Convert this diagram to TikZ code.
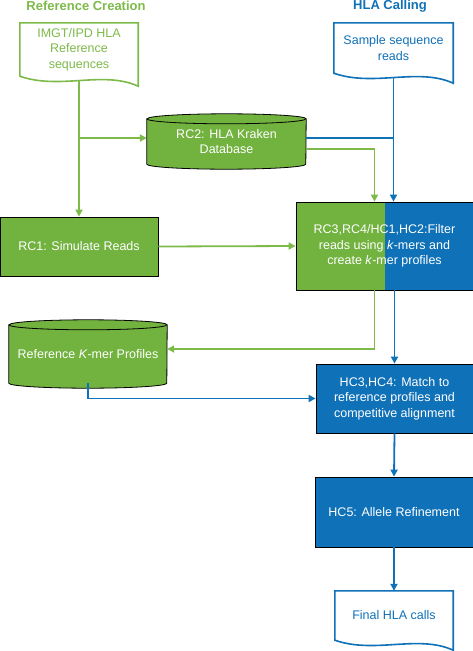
\documentclass[tikz,border=0pt]{standalone}
\usepackage{fontspec}
\setmainfont{Liberation Sans}
\usetikzlibrary{arrows.meta,backgrounds}
\definecolor{hgreen}{HTML}{72B23F}
\definecolor{lgreen}{HTML}{7DBA4A}
\definecolor{hblue}{HTML}{0F71B8}

% document outline with wavy bottom, drawn behind the named node
\newcommand{\docshape}[2]{%
  \begin{scope}[on background layer]
    \draw[#2, line width=1.6pt, fill=white] (#1.north west) -- (#1.north east)
      -- ([yshift=-10pt]#1.south east)
      .. controls ([xshift=-35pt,yshift=6pt]#1.south east) and ([xshift=40pt,yshift=-14pt]#1.south west) ..
      (#1.south west) -- cycle;
  \end{scope}}

% database cylinder round the named node, lifted by #3
\newcommand{\cylshape}[3]{%
  \begin{scope}[on background layer, yshift=#3]
    \filldraw[fill=hgreen, draw=black, line width=0.8pt] (#1.north west) -- (#1.south west)
      arc[start angle=180, end angle=360, x radius=#2, y radius=5pt] -- (#1.north east)
      arc[start angle=0, end angle=180, x radius=#2, y radius=5pt] -- cycle;
    \draw[black, line width=0.8pt] (#1.north west) arc[start angle=180, end angle=360, x radius=#2, y radius=5pt];
  \end{scope}}

\begin{document}
\begin{tikzpicture}[x=1pt, y=-1pt, align=center,
    every node/.style={inner sep=0pt, font=\fontsize{12.5}{15.5}\selectfont},
    title/.style={font=\fontsize{13}{15}\selectfont\bfseries},
    doc/.style={draw=none},
    cyl/.style={draw=none, text=white},
    gbox/.style={draw=black, line width=0.8pt, fill=hgreen, text=white},
    bbox/.style={draw=black, line width=0.8pt, fill=hblue, text=white},
    splitbox/.style={draw=black, line width=0.8pt, text=white},
    gline/.style={lgreen, line width=1.8pt, -{Triangle[length=7pt,width=7pt]}},
    bline/.style={hblue, line width=1.8pt, -{Triangle[length=7pt,width=7pt]}}]
  \useasboundingbox (0,0) rectangle (473,651);

  % column titles
  \node[title, text=lgreen] (reftitle) at (86,6) {Reference Creation};
  \node[title, text=hblue] (hlatitle) at (390,6) {HLA Calling};

  % inputs
  \node[doc, text=lgreen, minimum width=118pt, minimum height=53pt] (imgt) at (79,49.5) {IMGT/IPD HLA\\Reference\\sequences};
  \docshape{imgt}{lgreen}
  \node[doc, text=hblue, minimum width=119pt, minimum height=50pt] (sample) at (393.5,48) {Sample sequence\\reads};
  \docshape{sample}{hblue}

  % reference creation
  \node[cyl, minimum width=159pt, minimum height=45pt] (rc2) at (226.5,141.5) {RC2: HLA Kraken\\Database};
  \cylshape{rc2}{79.5pt}{4pt}
  \node[gbox, minimum width=158pt, minimum height=59pt] (rc1) at (79,246.5) {RC1: Simulate Reads};
  \node[splitbox, minimum width=177pt, minimum height=88pt] (rc3) at (384.5,246) {RC3,RC4/HC1,HC2:Filter\\reads using \textit{k}-mers and\\create \textit{k}-mer profiles};
  \begin{scope}[on background layer]
    \fill[hgreen] (rc3.north west) rectangle (rc3.south);
    \fill[hblue] (rc3.north) rectangle (rc3.south east);
  \end{scope}
  \node[cyl, minimum width=158pt, minimum height=58pt] (refk) at (88,354) {Reference \textit{K}-mer Profiles};
  \cylshape{refk}{79pt}{5pt}

  % HLA calling
  \node[bbox, minimum width=157pt, minimum height=69pt] (hc3) at (394.5,398.5) {HC3,HC4: Match to\\reference profiles and\\competitive alignment};
  \node[bbox, minimum width=158pt, minimum height=70pt] (hc5) at (394,512) {HC5: Allele Refinement};
  \node[doc, text=hblue, minimum width=118pt, minimum height=49pt] (final) at (394,615.5) {Final HLA calls};
  \docshape{final}{hblue}

  % connectors
  \draw[gline] ([yshift=-4pt]imgt.south) -- (rc1.north);
  \draw[gline] (rc1.north |- rc2.west) ++(0,-3.5) -- ([yshift=3.5pt]rc2.west);
  \draw[bline] ([yshift=-4pt]sample.south) -- (sample.south |- rc3.north);
  \draw[hblue, line width=1.8pt] ([yshift=3.5pt]rc2.east) -- ++(87.5,0);
  \draw[gline] ([yshift=-7.5pt]rc2.east) -| ([xshift=-10pt]rc3.north);
  \draw[gline] (rc1.east) -- (rc3.west);
  \draw[gline] ([xshift=-10pt]rc3.south) |- ([yshift=5pt]refk.east);
  \draw[bline] (rc3.south -| hc3.north) -- (hc3.north);
  \draw[bline] (refk.south) |- (hc3.west);
  \draw[bline] (hc3.south) -- (hc5.north);
  \draw[bline] (hc5.south) -- (final.north);
\end{tikzpicture}
\end{document}
